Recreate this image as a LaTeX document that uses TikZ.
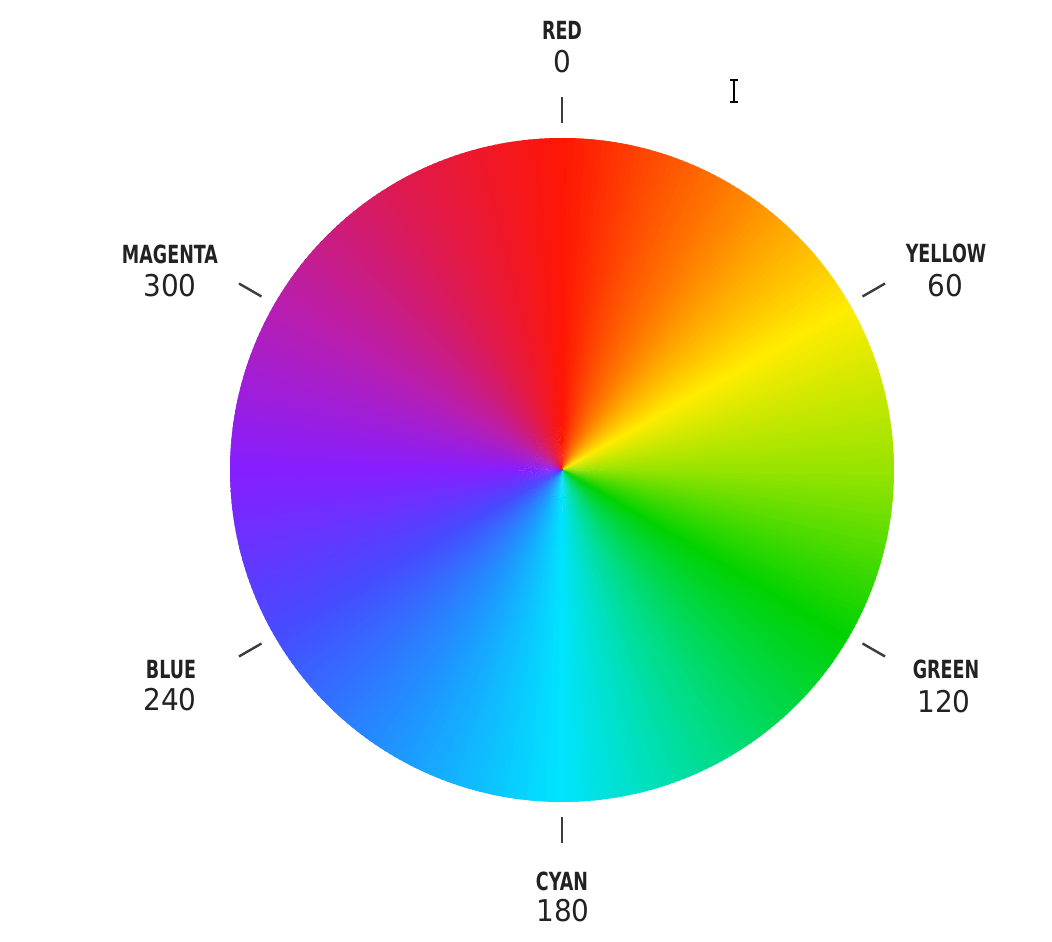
\documentclass[tikz,border=0pt]{standalone}
\usepackage{fontspec}
\newfontfamily\labfont[FakeStretch=0.7]{DejaVu Sans}
\newfontfamily\numfont[FakeStretch=0.93]{DejaVu Sans}
\definecolor{k0}{RGB}{255,22,4}
\definecolor{k1}{RGB}{255,122,0}
\definecolor{k2}{RGB}{255,236,0}
\definecolor{k3}{RGB}{150,228,0}
\definecolor{k4}{RGB}{0,210,0}
\definecolor{k5}{RGB}{0,220,130}
\definecolor{k6}{RGB}{0,228,255}
\definecolor{k7}{RGB}{30,150,255}
\definecolor{k8}{RGB}{70,75,255}
\definecolor{k9}{RGB}{135,30,255}
\definecolor{k10}{RGB}{185,30,175}
\definecolor{k11}{RGB}{222,25,80}
\definecolor{labtext}{RGB}{34,34,34}
\definecolor{tickcol}{RGB}{60,60,60}
\tikzset{
  lab/.style={inner sep=0pt, text=labtext, font=\labfont\bfseries\fontsize{25}{25}\selectfont},
  num/.style={inner sep=0pt, text=labtext, font=\numfont\fontsize{30}{30}\selectfont},
  tickmark/.style={draw=tickcol, line width=2.4pt},
  ibeam/.style={draw=black, line width=1.6pt}
}
\begin{document}
\begin{tikzpicture}[x=1pt,y=1pt]
\useasboundingbox (0,0) rectangle (1052,942);
\fill[white] (0,0) rectangle (1052,942);
\coordinate (C) at (562,472);
% colour wheel
\foreach \a/\ca/\cb in {0/k0/k1,30/k1/k2,60/k2/k3,90/k3/k4,120/k4/k5,150/k5/k6,180/k6/k7,210/k7/k8,240/k8/k9,270/k9/k10,300/k10/k11,330/k11/k0}{
  \foreach \i in {0,...,29}{
    \pgfmathtruncatemacro\t{100-\i*10/3}
    \pgfmathsetmacro\s{90-\a-\i}
    \fill[color=\ca!\t!\cb, shift={(C)}] (0,0) -- (\s:332) arc[start angle=\s, end angle=\s-1.6, radius=332] -- cycle;
  }
}
% ticks
\foreach \s in {0,60,120,180,240,300}{
  \draw[tickmark, shift={(C)}] (90-\s:347) -- (90-\s:373);
}
% labels
\node[lab] (red) at (562,912) {RED};
\node[num] (redn) at (562,880) {0};
\node[lab] (yellow) at (946,689) {YELLOW};
\node[num] (yellown) at (945,656) {60};
\node[lab] (green) at (946,273) {GREEN};
\node[num] (greenn) at (944,240) {120};
\node[lab] (cyan) at (562,61) {CYAN};
\node[num] (cyann) at (563,31) {180};
\node[lab] (blue) at (171,272) {BLUE};
\node[num] (bluen) at (170,242) {240};
\node[lab] (magenta) at (170,688) {MAGENTA};
\node[num] (magentan) at (170,656) {300};
% text cursor
\draw[ibeam] (734,862) -- (734,840);
\draw[ibeam] (730,862) -- (738,862);
\draw[ibeam] (730,840) -- (738,840);
\end{tikzpicture}
\end{document}
